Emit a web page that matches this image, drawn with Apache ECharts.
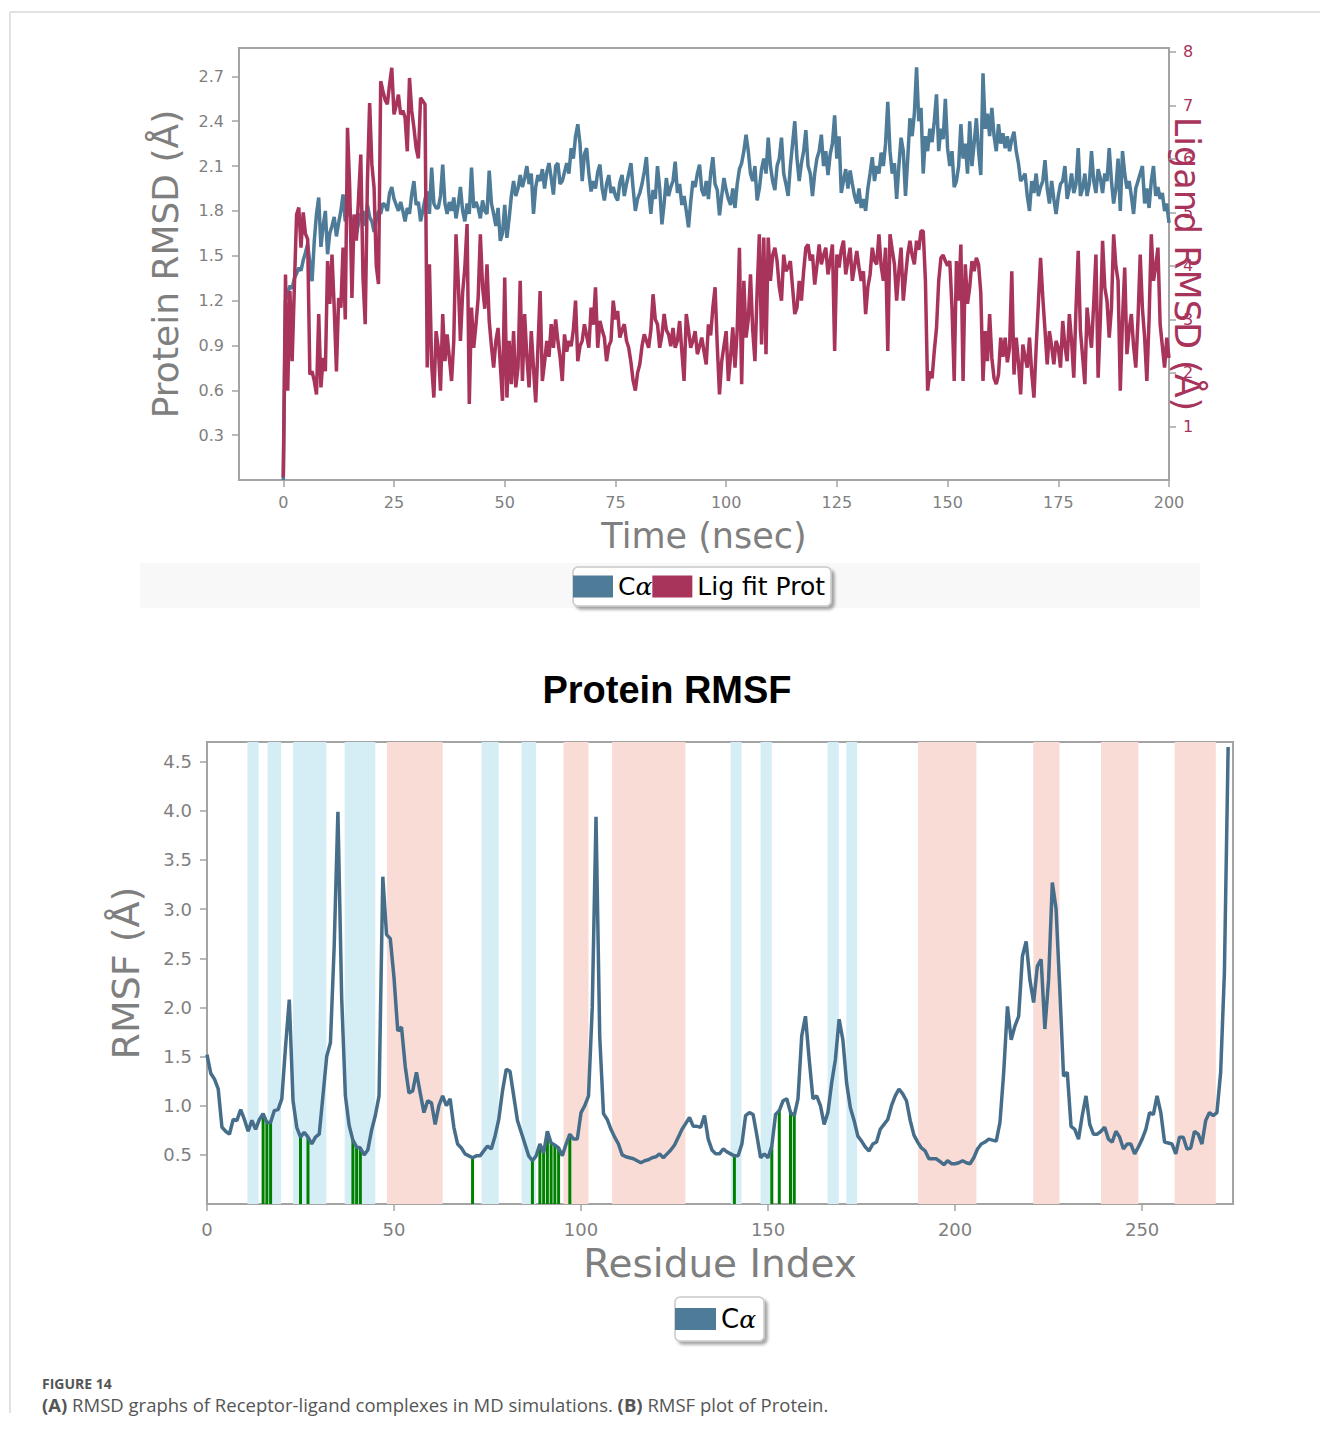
<!DOCTYPE html>
<html>
<head>
<meta charset="utf-8">
<script src="https://cdn.jsdelivr.net/npm/echarts@6/dist/echarts.min.js"></script>
<style>
  html, body { margin: 0; background: #fff; }
  #chart { width: 1320px; height: 1432px; }
</style>
</head>
<body>
<div id="chart"></div>
<script>
// ---- (A) RMSD, one frame every 0.5 ns, 0..200 ns ----
const frameStep = 0.5;
// protein C-alpha RMSD (left axis, Å)
const rmsdCa = [
  0.00, 1.20, 1.25, 1.30, 1.28, 1.35, 1.38, 1.42, 1.40, 1.47,
  1.52, 1.58, 1.45, 1.33, 1.60, 1.78, 1.89, 1.56, 1.70, 1.80,
  1.51, 1.65, 1.70, 1.76, 1.63, 1.72, 1.80, 1.91, 1.73, 1.78,
  1.82, 1.70, 1.75, 1.64, 1.72, 1.78, 1.80, 1.70, 1.84, 1.76,
  1.73, 1.66, 1.74, 1.80, 1.78, 1.85, 1.84, 1.80, 1.92, 1.96,
  1.88, 1.84, 1.80, 1.86, 1.80, 1.73, 1.82, 1.78, 1.91, 2.00,
  1.84, 1.86, 1.73, 1.80, 1.88, 1.93, 1.78, 2.09, 1.85, 1.82,
  1.82, 1.90, 2.11, 1.85, 1.78, 1.86, 1.80, 1.89, 1.75, 1.84,
  1.96, 1.80, 1.73, 1.85, 1.78, 2.09, 1.82, 1.86, 1.82, 1.75,
  1.87, 1.80, 1.78, 2.07, 1.85, 1.78, 1.70, 1.82, 1.60, 1.65,
  1.84, 1.62, 1.75, 1.90, 2.00, 1.90, 1.95, 2.04, 1.96, 2.02,
  2.10, 1.98, 2.05, 1.78, 1.96, 2.04, 2.00, 2.08, 1.95, 2.06,
  2.12, 2.02, 1.91, 2.10, 2.12, 1.98, 2.00, 2.06, 2.12, 2.05,
  2.22, 2.15, 2.30, 2.38, 2.25, 2.00, 2.18, 2.22, 2.05, 1.93,
  2.00, 1.95, 2.06, 2.11, 1.95, 1.87, 1.98, 2.04, 1.92, 1.96,
  1.90, 1.87, 1.99, 2.04, 1.90, 1.98, 2.05, 2.12, 1.95, 1.80,
  1.88, 1.92, 1.98, 2.06, 2.16, 1.93, 1.78, 1.94, 1.88, 2.10,
  1.95, 1.71, 1.85, 2.02, 1.90, 1.96, 2.00, 2.13, 1.92, 1.98,
  1.84, 1.90, 1.80, 1.69, 1.86, 2.00, 1.96, 2.05, 2.11, 1.94,
  1.90, 2.00, 1.88, 2.05, 2.16, 1.98, 1.94, 1.77, 1.90, 2.02,
  1.94, 1.88, 1.84, 1.95, 1.82, 1.98, 2.08, 2.12, 2.20, 2.31,
  2.20, 2.05, 2.00, 2.10, 1.87, 1.95, 2.08, 2.15, 2.05, 2.29,
  2.10, 2.00, 1.94, 2.10, 2.15, 2.29, 2.05, 1.98, 1.90, 2.10,
  2.25, 2.40, 2.15, 2.00, 2.12, 2.20, 2.34, 2.10, 2.05, 1.90,
  2.05, 2.15, 2.20, 2.31, 2.10, 2.20, 2.04, 2.18, 2.25, 2.44,
  2.15, 2.30, 1.92, 2.00, 2.08, 1.95, 2.07, 1.98, 1.90, 1.85,
  1.95, 1.82, 1.88, 1.80, 1.95, 2.05, 2.16, 2.00, 2.10, 2.05,
  2.19, 2.10, 2.25, 2.53, 2.20, 2.05, 2.12, 1.88, 2.10, 2.29,
  2.20, 1.90, 2.15, 2.42, 2.30, 2.45, 2.76, 2.40, 2.49, 2.05,
  2.30, 2.20, 2.35, 2.26, 2.40, 2.58, 2.20, 2.35, 2.28, 2.55,
  2.22, 2.10, 2.20, 1.96, 2.00, 2.10, 2.38, 2.15, 2.25, 2.05,
  2.40, 2.10, 2.25, 2.42, 2.20, 2.04, 2.72, 2.35, 2.45, 2.30,
  2.49, 2.30, 2.20, 2.38, 2.25, 2.32, 2.22, 2.30, 2.20, 2.28,
  2.33, 2.20, 2.12, 2.00, 2.02, 2.05, 1.90, 1.80, 2.00, 1.92,
  2.05, 1.90, 1.96, 2.00, 2.14, 1.95, 1.85, 2.00, 1.88, 1.78,
  1.90, 1.98, 2.00, 2.10, 1.88, 1.95, 2.05, 1.92, 1.98, 2.22,
  1.90, 1.95, 2.05, 1.90, 1.98, 2.20, 2.00, 1.92, 2.08, 2.02,
  1.92, 2.05, 2.00, 2.22, 2.00, 1.85, 1.95, 2.15, 1.80, 2.20,
  2.05, 1.95, 2.00, 1.90, 1.78, 1.95, 2.00, 2.05, 2.10, 1.85,
  1.95, 1.82, 2.00, 2.10, 1.90, 1.96, 1.88, 1.92, 1.80, 1.85,
  1.72
];
// ligand RMSD fit on protein (right axis, Å)
const rmsdLig = [
  0.05, 3.84, 1.67, 3.53, 2.22, 3.60, 4.96, 5.09, 4.34, 5.00,
  4.60, 4.50, 1.97, 2.03, 1.85, 1.60, 3.10, 1.73, 2.28, 2.03,
  4.09, 3.29, 4.21, 3.22, 2.03, 3.40, 3.22, 4.34, 3.00, 6.58,
  5.46, 3.40, 4.96, 4.47, 5.28, 6.08, 3.78, 2.91, 5.58, 7.04,
  5.90, 5.46, 4.00, 3.66, 7.45, 7.27, 7.10, 7.02, 7.39, 7.70,
  6.83, 7.00, 7.20, 6.83, 6.90, 6.77, 6.14, 7.51, 6.90, 6.58,
  6.20, 6.01, 7.14, 7.08, 7.02, 2.10, 4.03, 2.16, 1.54, 2.78,
  2.47, 1.67, 3.10, 2.22, 2.72, 2.28, 1.85, 2.60, 4.59, 3.72,
  2.60, 3.50, 3.97, 4.78, 1.42, 3.22, 2.47, 2.90, 3.40, 4.59,
  3.60, 3.20, 4.03, 2.97, 2.50, 2.10, 2.60, 2.84, 2.16, 1.48,
  3.78, 1.54, 2.60, 1.79, 2.78, 1.73, 2.10, 3.72, 1.85, 3.10,
  2.30, 1.73, 2.78, 2.10, 1.45, 2.47, 3.53, 1.85, 2.20, 2.60,
  2.30, 2.91, 2.47, 3.00, 2.60, 2.30, 1.85, 2.72, 2.40, 2.60,
  2.50, 2.80, 3.35, 2.22, 2.50, 2.60, 2.91, 2.70, 2.47, 3.22,
  2.90, 3.60, 2.47, 2.97, 2.80, 2.66, 2.22, 2.50, 2.60, 3.35,
  3.00, 3.16, 2.66, 2.80, 2.91, 2.60, 2.47, 2.20, 1.85, 1.67,
  2.00, 2.16, 2.50, 2.72, 2.60, 2.47, 2.80, 3.47, 3.00, 2.91,
  2.47, 2.70, 3.10, 2.80, 2.72, 2.50, 2.84, 2.47, 2.60, 2.97,
  2.40, 1.85, 3.10, 2.80, 2.47, 2.60, 2.78, 2.35, 2.50, 2.66,
  2.40, 2.16, 2.91, 2.70, 3.22, 3.60, 2.50, 1.60, 2.22, 2.50,
  2.78, 1.85, 2.30, 2.85, 2.10, 2.80, 4.34, 1.79, 3.72, 2.66,
  3.00, 3.84, 2.80, 2.22, 3.53, 4.59, 2.53, 4.53, 2.35, 4.53,
  3.72, 4.20, 4.34, 4.09, 3.60, 3.35, 4.21, 3.90, 3.97, 4.09,
  3.60, 3.10, 3.22, 3.72, 3.35, 3.90, 4.34, 4.40, 4.10, 4.21,
  3.65, 4.00, 4.40, 4.03, 4.20, 4.34, 3.84, 4.10, 4.40, 2.41,
  4.21, 3.97, 4.30, 4.47, 3.84, 4.10, 4.34, 3.72, 4.00, 4.28,
  3.97, 3.72, 3.90, 3.10, 3.60, 3.84, 4.34, 4.10, 4.03, 4.59,
  4.00, 3.72, 4.34, 2.41, 4.59, 4.30, 4.03, 3.35, 3.90, 4.34,
  3.35, 3.80, 4.21, 4.47, 4.20, 4.03, 4.47, 4.30, 4.65, 4.65,
  3.72, 1.67, 2.03, 1.90, 2.41, 2.84, 3.72, 4.15, 4.20, 4.09,
  4.00, 4.09, 3.22, 1.85, 4.09, 3.35, 4.40, 1.85, 4.03, 3.29,
  3.60, 4.09, 3.90, 4.15, 4.03, 3.50, 1.85, 2.78, 2.22, 3.10,
  2.28, 1.90, 1.79, 1.97, 2.66, 2.30, 2.66, 2.20, 2.47, 3.90,
  1.97, 2.66, 2.20, 1.60, 2.53, 2.30, 2.10, 2.66, 2.00, 1.54,
  2.47, 3.30, 4.15, 3.41, 2.80, 2.16, 2.78, 2.50, 2.16, 2.60,
  2.47, 2.10, 2.97, 2.50, 2.22, 3.10, 2.60, 1.91, 3.20, 4.28,
  2.78, 2.30, 1.79, 3.22, 2.80, 2.47, 3.30, 4.21, 1.91, 3.00,
  4.47, 3.60, 3.35, 2.66, 3.20, 4.59, 4.00, 3.72, 1.67, 3.00,
  3.97, 2.35, 2.80, 3.10, 2.50, 2.10, 3.00, 4.21, 3.20, 2.66,
  1.85, 3.00, 4.59, 3.72, 4.00, 4.34, 2.91, 2.50, 2.10, 2.66,
  2.28
];
const timeTicks = [0, 25, 50, 75, 100, 125, 150, 175, 200];
const rmsdTicks = [0.3, 0.6, 0.9, 1.2, 1.5, 1.8, 2.1, 2.4, 2.7];
const ligTicks = [1, 2, 3, 4, 5, 6, 7, 8];

// ---- (B) RMSF per residue, index 0..273 ----
const rmsfCa = [
  1.52, 1.33, 1.27, 1.17, 0.78, 0.74, 0.71, 0.86, 0.85, 0.96,
  0.86, 0.74, 0.85, 0.76, 0.86, 0.92, 0.83, 0.83, 0.95, 0.96,
  1.07, 1.60, 2.08, 1.05, 0.78, 0.68, 0.73, 0.68, 0.61, 0.68,
  0.71, 1.10, 1.50, 1.64, 2.62, 3.99, 2.10, 1.10, 0.80, 0.65,
  0.58, 0.57, 0.50, 0.55, 0.75, 0.90, 1.10, 3.33, 2.74, 2.70,
  2.30, 1.76, 1.80, 1.40, 1.13, 1.15, 1.34, 1.13, 0.93, 1.05,
  1.03, 0.81, 1.00, 1.10, 1.00, 1.07, 0.78, 0.61, 0.57, 0.51,
  0.49, 0.47, 0.49, 0.49, 0.54, 0.59, 0.56, 0.69, 0.86, 1.15,
  1.37, 1.35, 1.10, 0.85, 0.73, 0.61, 0.49, 0.44, 0.49, 0.61,
  0.52, 0.74, 0.62, 0.60, 0.57, 0.49, 0.61, 0.71, 0.66, 0.66,
  0.93, 1.00, 1.10, 2.00, 3.94, 1.70, 0.92, 0.86, 0.76, 0.68,
  0.61, 0.50, 0.48, 0.47, 0.46, 0.44, 0.42, 0.44, 0.45, 0.47,
  0.48, 0.51, 0.47, 0.51, 0.55, 0.60, 0.68, 0.76, 0.82, 0.88,
  0.79, 0.79, 0.78, 0.90, 0.66, 0.55, 0.51, 0.51, 0.56, 0.53,
  0.51, 0.49, 0.49, 0.61, 0.90, 0.93, 0.91, 0.70, 0.47, 0.51,
  0.47, 0.59, 0.91, 0.95, 1.05, 1.07, 0.93, 0.90, 1.07, 1.71,
  1.91, 1.47, 1.07, 1.10, 1.00, 0.81, 0.93, 1.23, 1.47, 1.88,
  1.67, 1.23, 0.98, 0.85, 0.69, 0.64, 0.58, 0.54, 0.61, 0.63,
  0.76, 0.81, 0.86, 1.00, 1.10, 1.17, 1.12, 1.05, 0.85, 0.70,
  0.63, 0.57, 0.54, 0.46, 0.46, 0.46, 0.43, 0.40, 0.44, 0.41,
  0.41, 0.42, 0.44, 0.42, 0.41, 0.47, 0.56, 0.61, 0.63, 0.66,
  0.65, 0.64, 0.83, 1.34, 2.01, 1.67, 1.81, 1.91, 2.52, 2.67,
  2.28, 2.05, 2.42, 2.49, 1.78, 2.28, 3.27, 3.00, 2.18, 1.30,
  1.34, 0.79, 0.76, 0.66, 0.90, 1.10, 0.81, 0.71, 0.71, 0.74,
  0.78, 0.66, 0.63, 0.74, 0.68, 0.56, 0.61, 0.61, 0.51, 0.58,
  0.66, 0.76, 0.93, 0.91, 1.10, 0.93, 0.63, 0.62, 0.61, 0.51,
  0.68, 0.68, 0.56, 0.57, 0.74, 0.71, 0.61, 0.85, 0.93, 0.90,
  0.93, 1.34, 2.35, 4.65
];
// secondary structure spans (residue index)
const helixSpans = [[48.1, 63.0], [95.3, 102.0], [108.3, 127.9], [190.1, 205.7],
  [220.9, 227.9], [239.0, 249.0], [258.7, 269.7]];
const strandSpans = [[10.8, 13.8], [16.2, 19.8], [23.0, 31.9], [36.8, 45.0],
  [73.4, 78.0], [84.1, 88.0], [140.0, 142.9], [148.0, 151.0], [165.9, 168.9], [170.9, 173.8]];
// residues in contact with the ligand
const contactResidues = [15, 16, 17, 25, 27, 39, 40, 41, 71, 87, 89, 90, 91, 92, 93, 94, 97,
  141, 151, 153, 156, 157];
const residueTicks = [0, 50, 100, 150, 200, 250];
const rmsfTicks = [0.5, 1.0, 1.5, 2.0, 2.5, 3.0, 3.5, 4.0, 4.5];

const chart = echarts.init(document.getElementById('chart'), null, { renderer: 'svg' });

const grey = '#7f7f7f';
const spine = '#a3a3a3';
const blue = '#4e7b97';
const crimson = '#a8335b';
const font = 'DejaVu Sans';

const timeNs = rmsdCa.map((v, i) => i * frameStep);

function tickAxis(extra) {
  return Object.assign({
    type: 'value',
    axisLine: { show: false, onZero: false },
    splitLine: { show: false },
    nameLocation: 'middle',
    nameMoveOverlap: false
  }, extra);
}

const bands = strandSpans.map(s => [{ xAxis: s[0], itemStyle: { color: '#d5eef6' } }, { xAxis: s[1] }])
  .concat(helixSpans.map(s => [{ xAxis: s[0], itemStyle: { color: '#f9dcd6' } }, { xAxis: s[1] }]));

const legendText = {
  fontSize: 25, color: '#000', fontFamily: font,
  rich: { i: { fontStyle: 'italic', fontSize: 25, fontFamily: 'DejaVu Serif', color: '#000' } }
};
function legendName(name) {
  return name === 'Cα' ? 'C{i|α}' : name;
}

const option = {
  animation: false,
  backgroundColor: '#fff',
  grid: [
    { left: 239, top: 48, width: 930, height: 432, show: true, borderColor: spine, borderWidth: 2, backgroundColor: 'transparent' },
    { left: 207, top: 742, width: 1026, height: 462, show: true, borderColor: spine, borderWidth: 2, backgroundColor: 'transparent' }
  ],
  xAxis: [
    tickAxis({
      gridIndex: 0, min: -10, max: 200,
      axisTick: { length: 7, customValues: timeTicks, lineStyle: { color: spine, width: 1.5 } },
      axisLabel: { customValues: timeTicks, color: grey, fontSize: 16, margin: 14, fontFamily: font },
      name: 'Time (nsec)', nameGap: 38,
      nameTextStyle: { fontSize: 35, color: grey, fontFamily: font }
    }),
    tickAxis({
      gridIndex: 1, min: 0, max: 274.3,
      axisTick: { length: 7, customValues: residueTicks, lineStyle: { color: spine, width: 1.5 } },
      axisLabel: { customValues: residueTicks, color: grey, fontSize: 18, margin: 16, fontFamily: font },
      name: 'Residue Index', nameGap: 40,
      nameTextStyle: { fontSize: 39, color: grey, fontFamily: font }
    })
  ],
  yAxis: [
    tickAxis({
      gridIndex: 0, min: 0, max: 2.89, position: 'left',
      axisTick: { length: 7, customValues: rmsdTicks, lineStyle: { color: spine, width: 1.5 } },
      axisLabel: { customValues: rmsdTicks, color: grey, fontSize: 16, margin: 15, fontFamily: font,
        formatter: v => v.toFixed(1) },
      name: 'Protein RMSD (Å)', nameGap: 56,
      nameTextStyle: { fontSize: 36, color: grey, fontFamily: font }
    }),
    tickAxis({
      gridIndex: 0, min: 0, max: 8.07, position: 'right',
      axisTick: { length: 7, customValues: ligTicks, lineStyle: { color: spine, width: 1.5 } },
      axisLabel: { customValues: ligTicks, color: crimson, fontSize: 16, margin: 14, fontFamily: font },
      name: 'Ligand RMSD (Å)', nameGap: 0, nameRotate: -90,
      nameTextStyle: { fontSize: 35, color: crimson, fontFamily: font }
    }),
    tickAxis({
      gridIndex: 1, min: 0, max: 4.7, position: 'left',
      axisTick: { length: 7, customValues: rmsfTicks, lineStyle: { color: spine, width: 1.5 } },
      axisLabel: { customValues: rmsfTicks, color: grey, fontSize: 18, margin: 15, fontFamily: font,
        formatter: v => v.toFixed(1) },
      name: 'RMSF (Å)', nameGap: 62,
      nameTextStyle: { fontSize: 38, color: grey, fontFamily: font }
    })
  ],
  legend: [
    {
      left: 573, top: 567, data: ['Cα', 'Lig fit Prot'], selectedMode: false,
      icon: 'rect', itemWidth: 40, itemHeight: 22, itemGap: 0,
      padding: [7, 6, 7, 0],
      backgroundColor: '#fff', borderColor: '#c8c8c8', borderWidth: 1.5, borderRadius: 5,
      shadowColor: 'rgba(0,0,0,0.35)', shadowBlur: 3, shadowOffsetX: 3, shadowOffsetY: 3,
      textStyle: legendText, formatter: legendName
    },
    {
      left: 675, top: 1297, data: ['Cα'], selectedMode: false,
      icon: 'rect', itemWidth: 41, itemHeight: 22, itemGap: 2,
      padding: [9, 8, 9, 0],
      backgroundColor: '#fff', borderColor: '#c8c8c8', borderWidth: 1.5, borderRadius: 5,
      shadowColor: 'rgba(0,0,0,0.35)', shadowBlur: 3, shadowOffsetX: 3, shadowOffsetY: 3,
      textStyle: Object.assign({}, legendText, { fontSize: 26 }), formatter: legendName
    }
  ],
  series: [
    {
      name: 'contacts',
      type: 'bar',
      xAxisIndex: 1, yAxisIndex: 2,
      barWidth: 3,
      itemStyle: { color: '#008000' },
      data: contactResidues.map(r => [r, rmsfCa[r]]),
      markArea: { silent: true, data: bands },
      z: 2
    },
    {
      name: 'Cα',
      type: 'line',
      xAxisIndex: 0, yAxisIndex: 0,
      showSymbol: false,
      color: blue,
      lineStyle: { width: 3.5, color: blue },
      data: rmsdCa.map((v, i) => [timeNs[i], v]),
      z: 3
    },
    {
      name: 'Lig fit Prot',
      type: 'line',
      xAxisIndex: 0, yAxisIndex: 1,
      showSymbol: false,
      color: crimson,
      lineStyle: { width: 3.5, color: crimson },
      data: rmsdLig.map((v, i) => [timeNs[i], v]),
      z: 4
    },
    {
      name: 'Cα',
      type: 'line',
      xAxisIndex: 1, yAxisIndex: 2,
      showSymbol: false,
      color: '#466e8a',
      lineStyle: { width: 3.5, color: '#466e8a' },
      data: rmsfCa.map((v, i) => [i, v]),
      z: 5
    }
  ],
  graphic: [
    { type: 'rect', z: -10, shape: { x: 140, y: 563, width: 1060, height: 45 }, style: { fill: '#f8f8f8' } },
    { type: 'line', shape: { x1: 10, y1: 12, x2: 1320, y2: 12 }, style: { stroke: '#d9d9d9', lineWidth: 1.5 } },
    { type: 'line', shape: { x1: 10, y1: 12, x2: 10, y2: 1413 }, style: { stroke: '#d9d9d9', lineWidth: 1.5 } },
    {
      type: 'text', x: 667, y: 690,
      style: {
        text: 'Protein RMSF', fill: '#000', align: 'center', verticalAlign: 'middle',
        font: 'bold 38px "Liberation Sans"'
      }
    },
    {
      type: 'text', x: 42, y: 1383,
      style: {
        text: 'FIGURE 14', font: 'bold 14px "Open Sans"', fill: '#555',
        verticalAlign: 'middle', lineHeight: 14
      }
    },
    {
      type: 'text', x: 42, y: 1404,
      style: {
        text: '{b|(A)} RMSD graphs of Receptor-ligand complexes in MD simulations. {b|(B)} RMSF plot of Protein.',
        font: '18.5px "Open Sans"', fill: '#555', verticalAlign: 'middle', lineHeight: 19,
        rich: { b: { fontWeight: 'bold', fontSize: 18.5, fontFamily: 'Open Sans', fill: '#555', lineHeight: 19 } }
      }
    }
  ]
};

chart.setOption(option);
</script>
</body>
</html>
